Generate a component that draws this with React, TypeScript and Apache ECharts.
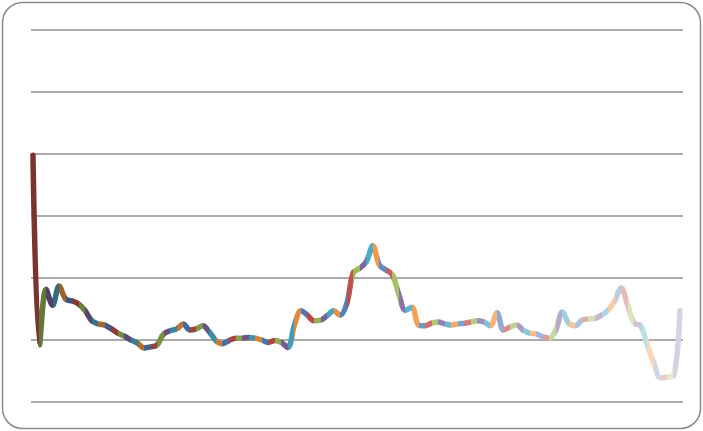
import React, { useEffect, useRef } from "react";
import * as echarts from "echarts";

// Series values, one per period
const values: number[] = [
  2.98, -0.08, 0.82, 0.56, 0.87, 0.66, 0.63, 0.58, 0.47, 0.31,
  0.26, 0.24, 0.18, 0.11, 0.06, 0.0, -0.05, -0.13, -0.11, -0.08,
  0.1, 0.15, 0.18, 0.26, 0.16, 0.18, 0.23, 0.13, -0.01, -0.06,
  -0.01, 0.03, 0.03, 0.04, 0.03, 0.0, -0.04, -0.01, -0.04, -0.12,
  0.24, 0.47, 0.4, 0.31, 0.32, 0.39, 0.47, 0.4, 0.58, 1.08,
  1.16, 1.26, 1.52, 1.21, 1.13, 1.05, 0.73, 0.48, 0.53, 0.24,
  0.23, 0.27, 0.29, 0.26, 0.24, 0.26, 0.27, 0.29, 0.31, 0.29,
  0.23, 0.44, 0.16, 0.21, 0.24, 0.16, 0.11, 0.1, 0.05, 0.03,
  0.16, 0.45, 0.27, 0.23, 0.32, 0.34, 0.35, 0.4, 0.48, 0.63,
  0.84, 0.56, 0.27, 0.23, -0.08, -0.37, -0.61, -0.6, -0.58, 0.47,
];

// Period index of each value (axis labels are hidden)
const periods: number[] = values.map((_, i) => i);

// Value axis range
const yMin = -1;
const yMax = 5;
const yStep = 1;

// Period axis padding so the plot area reaches a little past the end points
const xMin = -0.3;
const xMax = 99.46;

// Office accent palette, varied per point
const accents = ["#4F81BD", "#C0504D", "#9BBB59", "#8064A2", "#4BACC6", "#F79646"];

function hexToRgb(h: string): number[] {
  const n = parseInt(h.slice(1), 16);
  return [(n >> 16) & 255, (n >> 8) & 255, n & 255];
}

function rgbToHex(c: number[]): string {
  return (
    "#" +
    c
      .map((v) => Math.max(0, Math.min(255, Math.round(v))).toString(16).padStart(2, "0"))
      .join("")
  );
}

// Early cycles are shaded darker, later cycles tinted lighter
function pointColor(p: number, n: number): string {
  const base = hexToRgb(accents[p % accents.length]);
  const cycles = Math.ceil(n / accents.length);
  const c = Math.floor(p / accents.length);
  const mid = (cycles - 1) / 2;
  if (c < mid) {
    const k = 0.36 * ((mid - c) / mid);
    return rgbToHex(base.map((v) => v * (1 - k)));
  }
  const t = 0.7 * ((c - mid) / (cycles - 1 - mid));
  return rgbToHex(base.map((v) => v + (255 - v) * t));
}

export default function App() {
  const ref = useRef<HTMLDivElement>(null);

  useEffect(() => {
    if (!ref.current) return;
    const chart = echarts.init(ref.current, undefined, { renderer: "svg" });

    const n = values.length;
    // Segment j (from point j to j+1) takes the colour of point j+1;
    // the outer pieces reach past the ends so the stroke caps keep their colour
    const pieces = [];
    for (let j = 0; j < n - 1; j++) {
      const lo = j === 0 ? -2 : j;
      const hi = j === n - 2 ? n + 1 : j + 1;
      pieces.push(
        j === 0
          ? { gte: lo, lte: hi, color: pointColor(j + 1, n) }
          : { gt: lo, lte: hi, color: pointColor(j + 1, n) }
      );
    }

    chart.setOption({
      animation: false,
      backgroundColor: "#ffffff",
      grid: { left: 31, right: 20, top: 30, bottom: 29, containLabel: false },
      xAxis: {
        type: "value",
        min: xMin,
        max: xMax,
        axisLine: { show: false },
        axisTick: { show: false },
        axisLabel: { show: false },
        splitLine: { show: false },
      },
      yAxis: {
        type: "value",
        min: yMin,
        max: yMax,
        interval: yStep,
        axisLine: { show: false },
        axisTick: { show: false },
        axisLabel: { show: false },
        splitLine: { show: true, lineStyle: { color: "#8f8f8f", width: 1.5 } },
      },
      visualMap: {
        type: "piecewise",
        show: false,
        dimension: 0,
        seriesIndex: 0,
        pieces,
      },
      series: [
        {
          type: "line",
          data: periods.map((p, i) => [p, values[i]]),
          smooth: 0.35,
          clip: false,
          showSymbol: false,
          symbol: "none",
          lineStyle: { width: 5.5, cap: "round", join: "round" },
        },
      ],
      graphic: [
        {
          type: "rect",
          shape: { x: 2.5, y: 2.5, width: 698, height: 426, r: 20 },
          style: { fill: "none", stroke: "#8a8a8a", lineWidth: 1.5 },
          silent: true,
          z: 10,
        },
      ],
    });

    return () => chart.dispose();
  }, []);

  return (
    <div
      ref={ref}
      style={{ position: "fixed", left: 0, top: 0, width: 703, height: 431 }}
    />
  );
}
